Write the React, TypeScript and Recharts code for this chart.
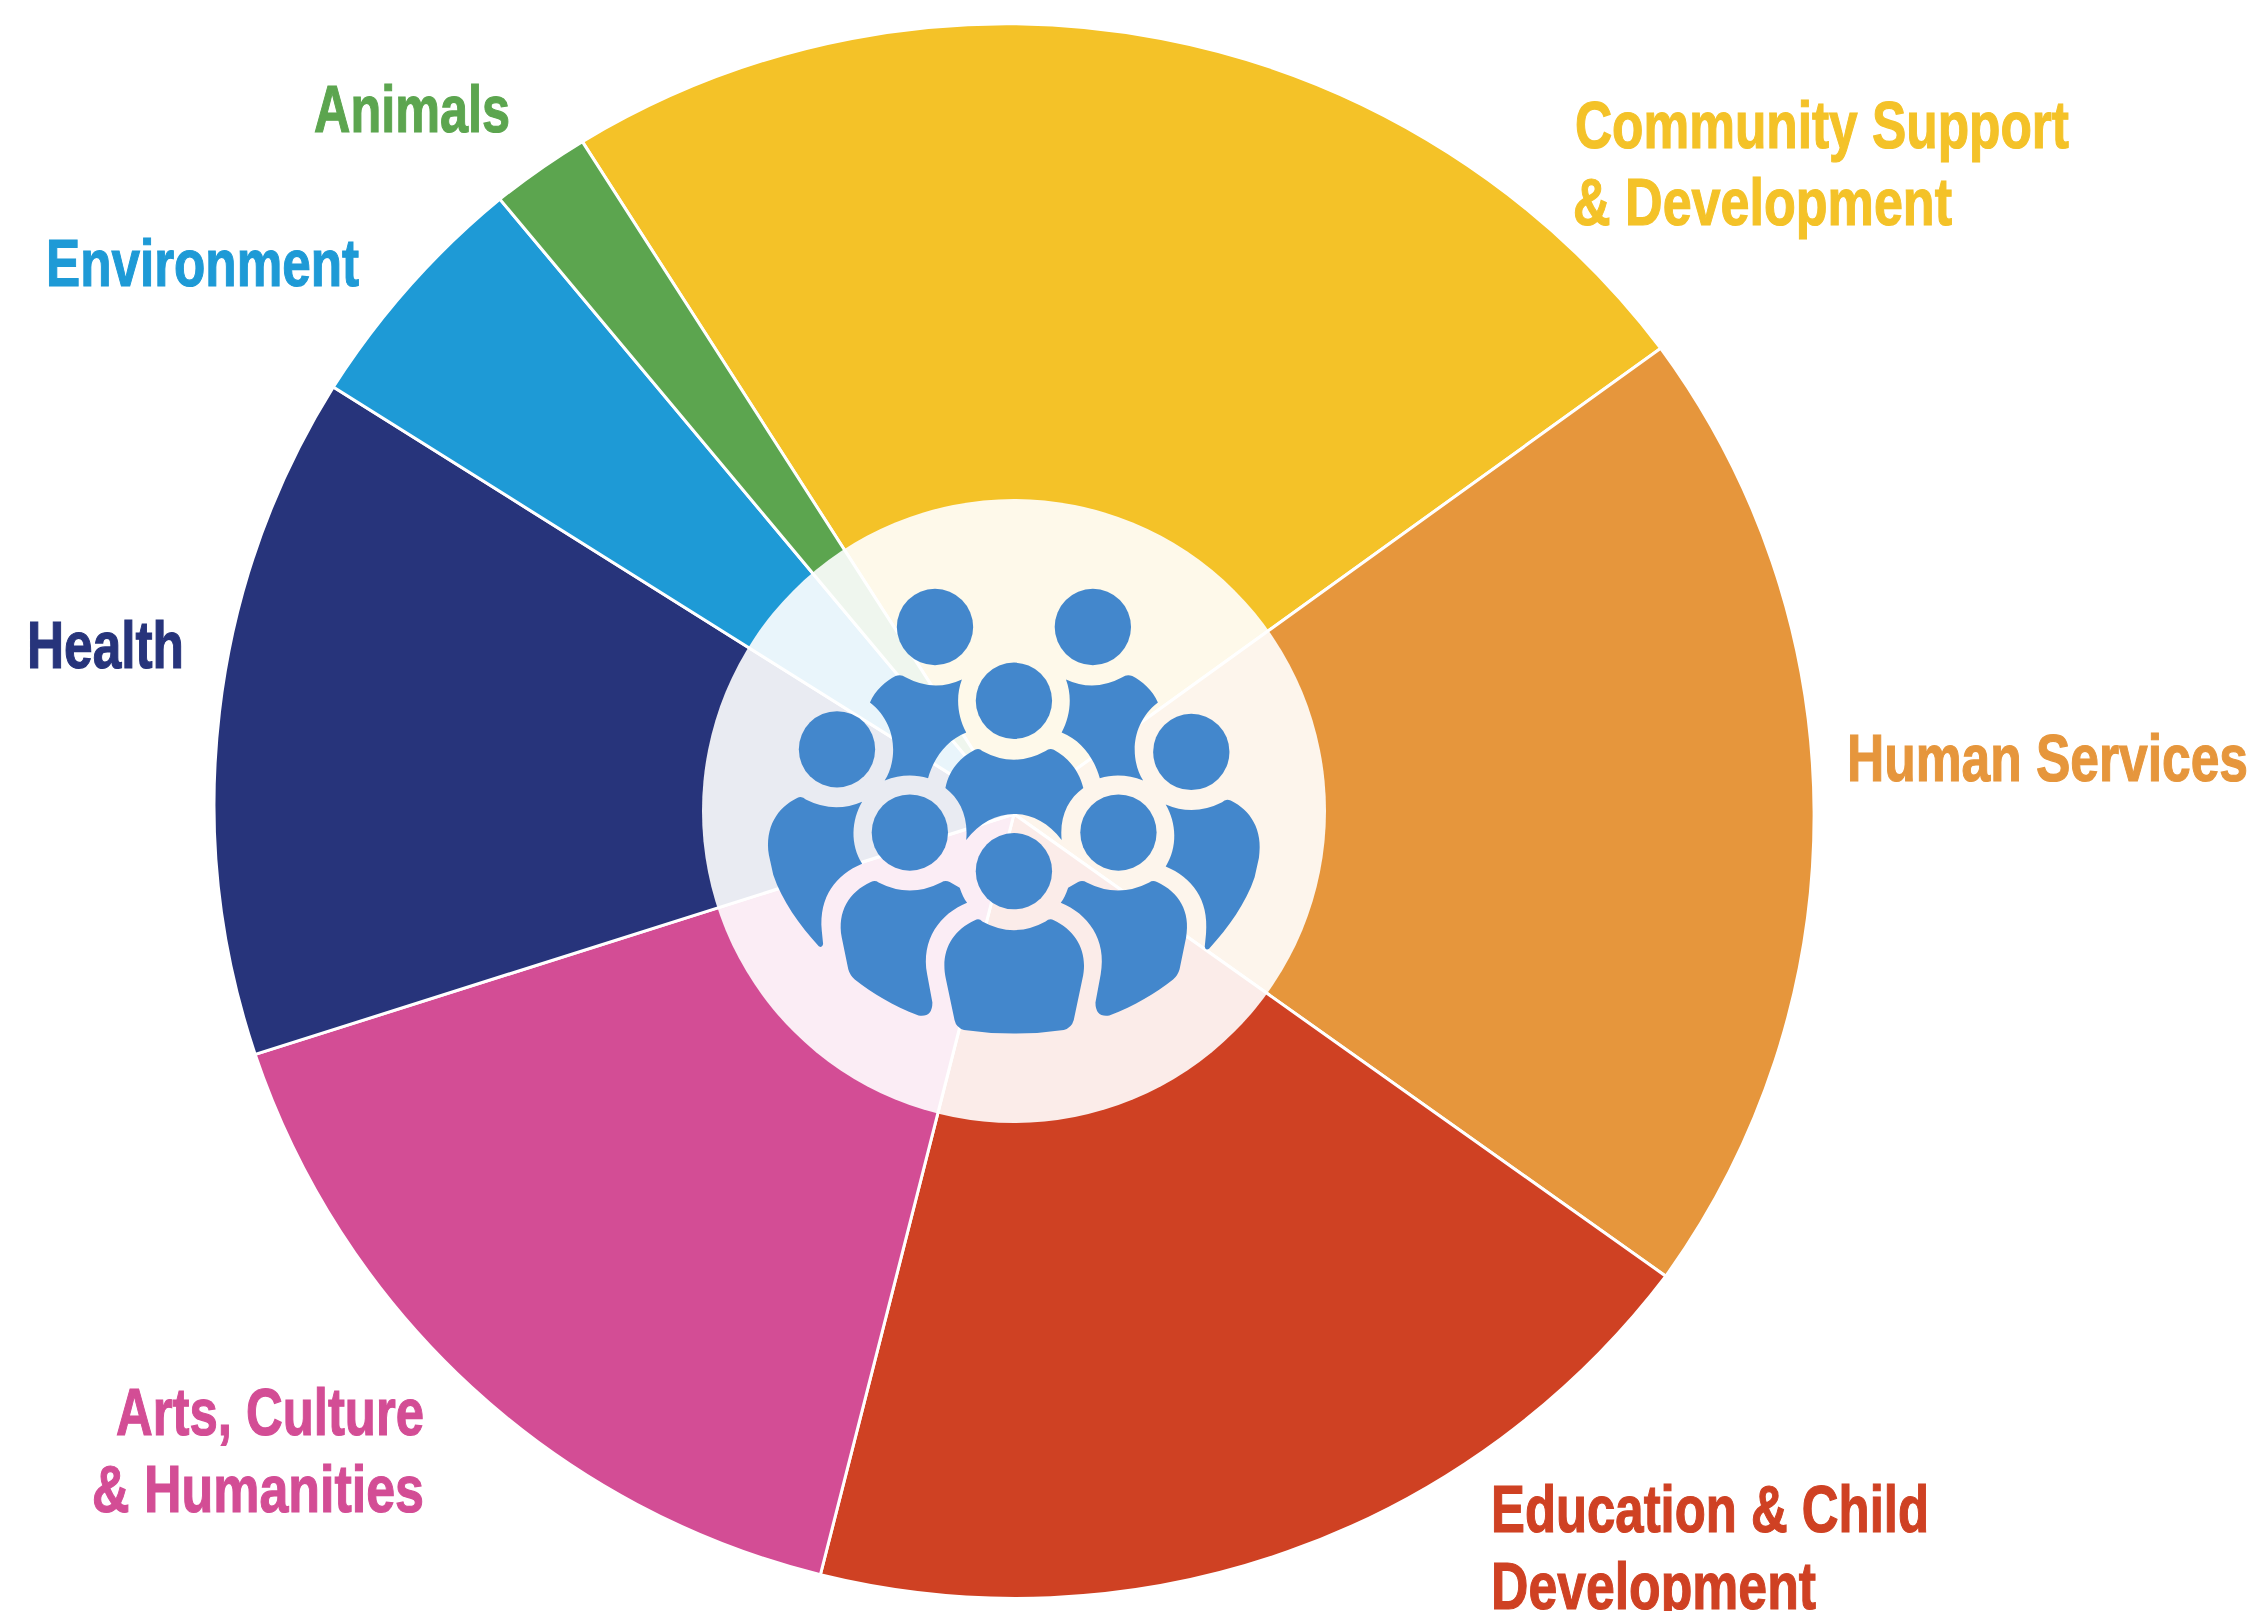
import React from 'react';
import { PieChart, Pie } from 'recharts';

const categories = [
  'Community Support & Development',
  'Human Services',
  'Education & Child Development',
  'Arts, Culture & Humanities',
  'Health',
  'Environment',
  'Animals',
];
const shares = [24.15, 19.75, 19.15, 16.15, 13.8, 5.0, 2.0];
const colors = ['#F4C228', '#E6963C', '#CF4123', '#D34D95', '#27347B', '#1E9AD6', '#5CA54F'];

const labelLines = [
  ['Community Support', '& Development'],
  ['Human Services'],
  ['Education & Child', 'Development'],
  ['Arts, Culture', '& Humanities'],
  ['Health'],
  ['Environment'],
  ['Animals'],
];

// where each label line sits: [left, baseline, width]
const labelBoxes = [
  [[1575, 148, 494], [1573, 225, 379]],
  [[1847, 781, 401]],
  [[1491, 1532, 438], [1491, 1609, 325]],
  [[116, 1435, 308], [92, 1512, 332]],
  [[27, 668, 157]],
  [[46, 286, 313]],
  [[314, 132, 196]],
];

// the rim is hand-drawn in the original: distance from the hub where each wedge starts,
// and the radius of each wedge's outer arc
const rimStart = [799, 797, 799, 785, 796, 803.5, 801.5];
const arcRadius = [822, 789, 817, 800, 787, 800, 800];

const data = categories.map((name, i) => ({ name, value: shares[i], fill: colors[i] }));

const WIDTH = 2253;
const HEIGHT = 1611;
const HUB_X = 1014;
const HUB_Y = 814;

const RAD = Math.PI / 180;

function rimPoint(cx: number, cy: number, angle: number, r: number) {
  return { x: cx + r * Math.cos(-angle * RAD), y: cy + r * Math.sin(-angle * RAD) };
}

function Wedge(props: any) {
  const { cx, cy, startAngle, endAngle, fill, name } = props;
  const i = categories.indexOf(name);
  const p1 = rimPoint(cx, cy, startAngle, rimStart[i]);
  const p2 = rimPoint(cx, cy, endAngle, rimStart[(i + 1) % rimStart.length]);
  const r = arcRadius[i];
  const d = `M ${cx} ${cy} L ${p1.x} ${p1.y} A ${r} ${r} 0 0 1 ${p2.x} ${p2.y} Z`;
  return <path d={d} fill={fill} stroke="#fff" strokeWidth={3} strokeLinejoin="miter" />;
}

function SliceLabel({ index }: any) {
  return (
    <g>
      {labelLines[index].map((line, i) => {
        const [x, y, w] = labelBoxes[index][i];
        return (
          <text
            key={line}
            x={x}
            y={y}
            textLength={w}
            lengthAdjust="spacingAndGlyphs"
            fill={colors[index]}
            stroke={colors[index]}
            strokeWidth={1.2}
            fontFamily="'Liberation Sans Narrow', 'Liberation Sans', sans-serif"
            fontWeight={700}
            fontSize={67}
          >
            {line}
          </text>
        );
      })}
    </g>
  );
}

const TOP_BODY = 'M520 455Q585 490 650 460C635 500 640 545 660 582C615 600 585 640 572 688C540 678 505 680 472 693C500 650 505 565 438 513C450 485 475 463 497 452Q510 447 520 455Z';
const SIDE_BODY = 'M290 737Q355 770 420 742C395 785 392 840 420 885C360 910 320 960 327 1040L330 1070Q328 1080 320 1075C275 1025 235 970 215 910L205 865C195 800 225 755 270 733Q282 728 290 737Z';
const MID_BODY = 'M458 928Q530 965 602 928Q612 922 622 927L645 940C650 955 655 965 662 975C600 1000 555 1060 570 1140L582 1205Q582 1240 550 1235C490 1212 445 1185 403 1152Q392 1142 388 1128L373 1055C362 995 390 950 440 927Q450 922 458 928Z';
const CENTER_BODY = 'M697 625Q770 665 843 625Q852 617 862 622C895 640 920 670 930 710C895 735 875 775 880 830C850 790 810 770 770 770C730 770 690 790 660 830C665 775 645 735 612 710C620 670 645 640 680 622Q690 617 697 625Z';
const FRONT_BODY = 'M697 1018Q770 1058 843 1018Q852 1010 862 1015C915 1040 942 1090 928 1150L908 1245Q903 1263 885 1268Q770 1285 655 1268Q637 1263 633 1245L613 1150C600 1090 625 1040 680 1015Q690 1010 697 1018Z';

// pale disc and crowd icon in the middle of the wheel
function HubOverlay() {
  return (
    <svg width={WIDTH} height={HEIGHT} style={{ position: 'absolute', left: 0, top: 0, pointerEvents: 'none' }}>
      <circle cx={1014} cy={811} r={312} fill="#fff" fillOpacity={0.9} />
      <g fill="#4387CC" transform="translate(680 480) scale(0.43367)">
        <circle cx={588} cy={339} r={88} />
        <circle cx={952} cy={339} r={88} />
        <circle cx={770} cy={509} r={88} />
        <circle cx={362} cy={621} r={88} />
        <circle cx={1179} cy={627} r={88} />
        <circle cx={530} cy={813} r={88} />
        <circle cx={1011} cy={813} r={88} />
        <circle cx={770} cy={902} r={88} />
        <path d={TOP_BODY} />
        <path d={TOP_BODY} transform="translate(1540 0) scale(-1 1)" />
        <path d={SIDE_BODY} />
        <path d={SIDE_BODY} transform="translate(1540 6) scale(-1 1)" />
        <path d={MID_BODY} />
        <path d={MID_BODY} transform="translate(1540 0) scale(-1 1)" />
        <path d={CENTER_BODY} />
        <path d={FRONT_BODY} />
      </g>
    </svg>
  );
}

export default function App() {
  return (
    <div style={{ position: 'absolute', left: 0, top: 0, width: WIDTH, height: HEIGHT, background: '#fff', overflow: 'hidden' }}>
      <PieChart width={WIDTH} height={HEIGHT} margin={{ top: 0, right: 0, bottom: 0, left: 0 }}>
        <Pie
          data={data}
          dataKey="value"
          nameKey="name"
          cx={HUB_X}
          cy={HUB_Y}
          innerRadius={0}
          outerRadius={798}
          startAngle={122.7}
          endAngle={-237.3}
          paddingAngle={0}
          shape={Wedge}
          label={SliceLabel}
          labelLine={false}
          isAnimationActive={false}
        />
      </PieChart>
      <HubOverlay />
    </div>
  );
}
